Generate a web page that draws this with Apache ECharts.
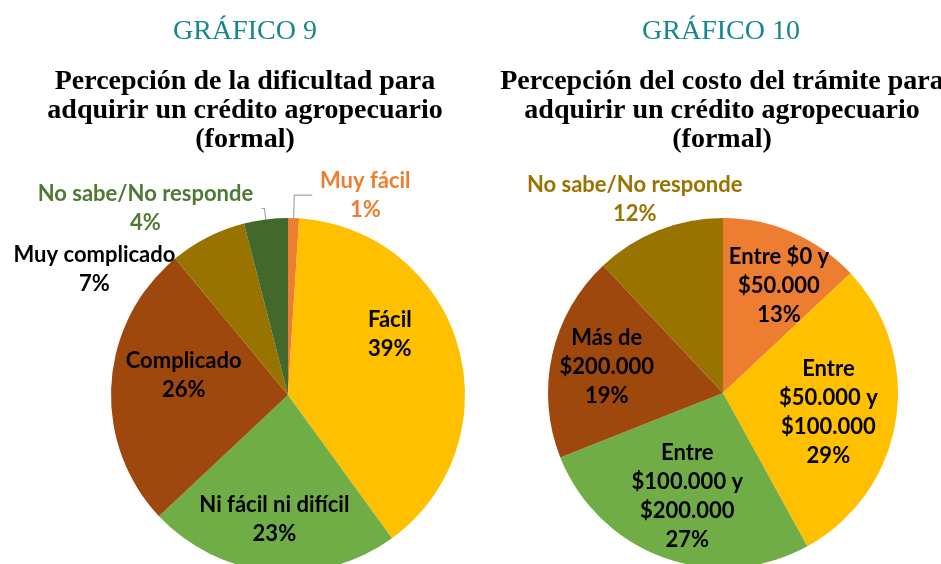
<!DOCTYPE html>
<html>
<head>
<meta charset="utf-8">
<script src="https://cdn.jsdelivr.net/npm/echarts@6/dist/echarts.min.js"></script>
<style>
  html, body { margin: 0; padding: 0; background: #fff; }
  #chart { width: 941px; height: 564px; }
</style>
</head>
<body>
<div id="chart"></div>
<script>
// data
const difNames = ['Muy fácil', 'Fácil', 'Ni fácil ni difícil', 'Complicado', 'Muy complicado', 'No sabe/No responde']
const difValues = [1, 39, 23, 26, 7, 4]

const costoNames = ['Entre $0 y\n$50.000', 'Entre\n$50.000 y\n$100.000', 'Entre\n$100.000 y\n$200.000', 'Más de\n$200.000', 'No sabe/No responde']
const costoValues = [13, 29, 27, 19, 12]

const difColors = ['#ED7D31', '#FFC000', '#70AD47', '#9E480E', '#997300', '#43682B']
const costoColors = ['#ED7D31', '#FFC000', '#70AD47', '#9E480E', '#997300']

const labelFont = { fontFamily: 'Lato', fontWeight: 'bold', fontSize: 22, lineHeight: 29 }
const lineGray = '#a6a6a6'

// per-slice label tweaks (style only)
const difLabels = [
  { position: 'outside', color: '#ED7D31', formatter: '{w|{b}}\n{w|{c}%}', rich: { w: Object.assign({ width: 96, align: 'center', color: '#ED7D31' }, labelFont) } },
  { offset: [14, -35] },
  { offset: [-5, 33] },
  { offset: [-13, -14] },
  { offset: [-152, -44] },
  { position: 'outside', color: '#4E7A36', formatter: '{w|{b}}\n{w|{c}%}', rich: { w: Object.assign({ width: 222, align: 'center', color: '#4E7A36' }, labelFont) } }
]
const difLines = [
  { show: true, length: 23, length2: 18 },
  null, null, null, null,
  { show: true, length: 11, length2: 3 }
]

const costoLabels = [
  { offset: [20, -24] },
  { offset: [16, 5] },
  { offset: [-5, 18] },
  { offset: [-28, -6] },
  { offset: [-55, -109], color: '#997300' }
]

const chart = echarts.init(document.getElementById('chart'))

function pieData (names, values, colors, labels, lines) {
  return names.map((n, i) => {
    const d = { name: n, value: values[i], itemStyle: { color: colors[i] } }
    if (labels && labels[i]) d.label = labels[i]
    if (lines && lines[i]) d.labelLine = lines[i]
    return d
  })
}

const headStyle = { fontFamily: 'Liberation Serif', fontWeight: 'normal', fontSize: 28, lineHeight: 30, color: '#17878E' }
const subStyle = { fontFamily: 'Liberation Serif', fontWeight: 'bold', fontSize: 28, lineHeight: 29, color: '#000' }

const option = {
  backgroundColor: '#fff',
  animation: false,
  title: [
    { text: 'GRÁFICO 9', left: 240, top: 12, textAlign: 'center', textStyle: headStyle },
    { text: 'Percepción de la dificultad para\nadquirir un crédito agropecuario\n(formal)', left: 240, top: 62, textAlign: 'center', textStyle: subStyle },
    { text: 'GRÁFICO 10', left: 716, top: 12, textAlign: 'center', textStyle: headStyle },
    { text: 'Percepción del costo del trámite para\nadquirir un crédito agropecuario\n(formal)', left: 717, top: 62, textAlign: 'center', textStyle: subStyle }
  ],
  series: [
    {
      type: 'pie',
      center: [288, 395],
      radius: 177,
      startAngle: 90,
      clockwise: true,
      avoidLabelOverlap: false,
      label: Object.assign({ show: true, position: 'inside', formatter: '{b}\n{c}%', color: '#000' }, labelFont),
      labelLine: { show: false, lineStyle: { color: lineGray, width: 1.2 } },
      itemStyle: { borderWidth: 0 },
      emphasis: { disabled: true },
      data: pieData(difNames, difValues, difColors, difLabels, difLines)
    },
    {
      type: 'pie',
      center: [723, 393],
      radius: 175,
      startAngle: 90,
      clockwise: true,
      avoidLabelOverlap: false,
      label: Object.assign({ show: true, position: 'inside', formatter: '{b}\n{c}%', color: '#000' }, labelFont),
      labelLine: { show: false },
      itemStyle: { borderWidth: 0 },
      emphasis: { disabled: true },
      data: pieData(costoNames, costoValues, costoColors, costoLabels)
    }
  ]
}

chart.setOption(option)
</script>
</body>
</html>
